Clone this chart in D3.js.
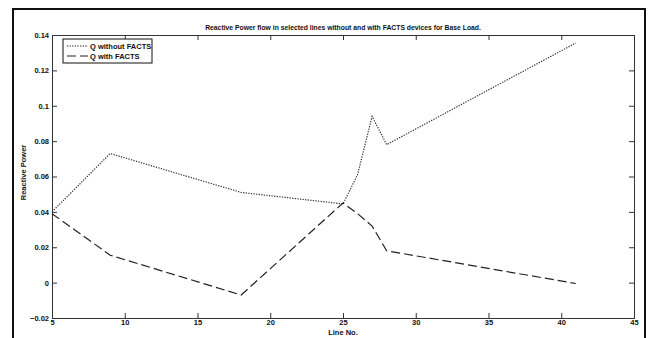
<!DOCTYPE html>
<html>
<head>
<meta charset="utf-8">
<script src="https://cdn.jsdelivr.net/npm/d3@7"></script>
<style>
  body { margin: 0; background: #fff; }
  svg text { font-family: "Liberation Sans", Arial, sans-serif; fill: #111; }
  .axis path, .axis line { stroke: #333; }
</style>
</head>
<body>
<div id="chart"></div>
<script>
// line numbers and reactive power values
var lineNo = [5, 9, 18, 25, 26, 27, 28, 41];
var qWithout = [0.040, 0.073, 0.051, 0.0445, 0.061, 0.094, 0.078, 0.1355];
var qWith = [0.039, 0.0155, -0.007, 0.045, 0.039, 0.032, 0.018, -0.0005];
var xTicks = [5, 10, 15, 20, 25, 30, 35, 40, 45];
var yTicks = [-0.02, 0, 0.02, 0.04, 0.06, 0.08, 0.1, 0.12, 0.14];

var width = 650, height = 338;
var padding = {left: 52, right: 16, top: 35, bottom: 20};

var svg = d3.select('#chart').append('svg')
    .attr('width', width)
    .attr('height', height);

// outer frame
svg.append('rect')
    .attr('x', 13).attr('y', 9)
    .attr('width', 632).attr('height', 340)
    .attr('fill', 'none')
    .attr('stroke', '#111')
    .attr('stroke-width', 2);

var xScale = d3.scaleLinear()
    .domain([5, 45])
    .range([padding.left, width - padding.right]);

var yScale = d3.scaleLinear()
    .domain([-0.02, 0.14])
    .range([height - padding.bottom, padding.top]);

var fmt = function (d) { return d3.format('~g')(+d.toFixed(2)); };

// axes, ticks pointing inward like matlab
var gx = svg.append('g').attr('class', 'axis')
    .attr('transform', 'translate(0,' + yScale(-0.02) + ')')
    .call(d3.axisBottom(xScale).tickValues(xTicks).tickSize(-5).tickPadding(2).tickFormat(d3.format('d')));
var gxTop = svg.append('g').attr('class', 'axis')
    .attr('transform', 'translate(0,' + yScale(0.14) + ')')
    .call(d3.axisTop(xScale).tickValues(xTicks).tickSize(-5).tickFormat(''));
var gy = svg.append('g').attr('class', 'axis')
    .attr('transform', 'translate(' + xScale(5) + ',0)')
    .call(d3.axisLeft(yScale).tickValues(yTicks).tickSize(-5).tickPadding(3).tickFormat(fmt));
var gyRight = svg.append('g').attr('class', 'axis')
    .attr('transform', 'translate(' + xScale(45) + ',0)')
    .call(d3.axisRight(yScale).tickValues(yTicks).tickSize(-5).tickFormat(''));

svg.selectAll('.axis text')
    .style('font-size', '7.5px')
    .style('font-weight', 'bold')
    .attr('fill', '#111');

var line = d3.line()
    .x(function (d, i) { return xScale(lineNo[i]); })
    .y(function (d) { return yScale(d); });

svg.append('path')
    .datum(qWithout)
    .attr('d', line)
    .attr('fill', 'none')
    .attr('stroke', '#333')
    .attr('stroke-width', 1.2)
    .attr('stroke-dasharray', '1.3,1.3');

svg.append('path')
    .datum(qWith)
    .attr('d', line)
    .attr('fill', 'none')
    .attr('stroke', '#222')
    .attr('stroke-width', 1.2)
    .attr('stroke-dasharray', '9,4');

// title and labels
svg.append('text')
    .attr('x', (xScale(5) + xScale(45)) / 2)
    .attr('y', 29.5)
    .attr('text-anchor', 'middle')
    .style('font-size', '6.8px')
    .style('font-weight', 'bold')
    .text('Reactive Power flow in selected lines without and with FACTS devices for Base Load.');

svg.append('text')
    .attr('x', (xScale(5) + xScale(45)) / 2)
    .attr('y', 335)
    .attr('text-anchor', 'middle')
    .style('font-size', '7.5px')
    .style('font-weight', 'bold')
    .text('Line No.');

svg.append('text')
    .attr('transform', 'translate(26,' + (yScale(0.06) - 4) + ') rotate(-90)')
    .attr('text-anchor', 'middle')
    .style('font-size', '7.5px')
    .style('font-weight', 'bold')
    .text('Reactive Power');

// legend
var legend = svg.append('g').attr('transform', 'translate(63,39)');
legend.append('rect')
    .attr('width', 89).attr('height', 24)
    .attr('fill', '#fff')
    .attr('stroke', '#111')
    .attr('stroke-width', 1);
var items = [
    {name: 'Q without FACTS', dash: '1.3,1.3'},
    {name: 'Q with FACTS', dash: '9,4'}
];
items.forEach(function (it, i) {
    var y = 7 + i * 10;
    legend.append('line')
        .attr('x1', 4).attr('x2', 25)
        .attr('y1', y).attr('y2', y)
        .attr('stroke', '#222')
        .attr('stroke-width', 1.2)
        .attr('stroke-dasharray', it.dash);
    legend.append('text')
        .attr('x', 27).attr('y', y + 3)
        .style('font-size', '7.5px')
        .style('font-weight', 'bold')
        .text(it.name);
});
</script>
</body>
</html>
